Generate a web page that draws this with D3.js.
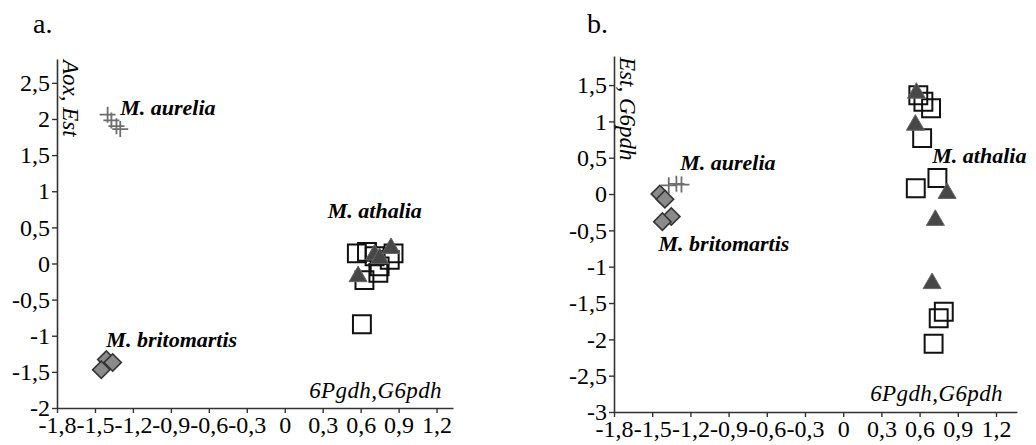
<!DOCTYPE html>
<html>
<head>
<meta charset="utf-8">
<script src="https://cdn.jsdelivr.net/npm/d3@7"></script>
<style>
  body { margin: 0; background: #fff; }
</style>
</head>
<body>
<svg id="chart" width="1036" height="445"></svg>
<script>
// tick values
const xTicks = [-1.8, -1.5, -1.2, -0.9, -0.6, -0.3, 0, 0.3, 0.6, 0.9, 1.2];
const yTicksA = [-2, -1.5, -1, -0.5, 0, 0.5, 1, 1.5, 2, 2.5];
const yTicksB = [-3, -2.5, -2, -1.5, -1, -0.5, 0, 0.5, 1, 1.5];

// panel a: Aox, Est vs 6Pgdh,G6pdh
const aureliaA = [[-1.40, 2.06], [-1.37, 1.98], [-1.33, 1.90], [-1.30, 1.86]];
const britomartisA = [[-1.41, -1.33], [-1.36, -1.37], [-1.45, -1.47]];
const athaliaSqA = [[0.57, 0.14], [0.65, 0.16], [0.71, 0.10], [0.75, -0.04], [0.86, 0.14],
                    [0.83, 0.05], [0.74, -0.13], [0.63, -0.23], [0.61, -0.84]];
const athaliaTriA = [[0.58, -0.18], [0.71, 0.12], [0.75, 0.07], [0.84, 0.21]];

// panel b: Est, G6pdh vs 6Pgdh,G6pdh
const aureliaB = [[-1.37, 0.12], [-1.31, 0.14], [-1.27, 0.13]];
const britomartisB = [[-1.44, 0.0], [-1.40, -0.07], [-1.35, -0.31], [-1.42, -0.38]];
const athaliaSqB = [[0.59, 1.36], [0.63, 1.27], [0.69, 1.18], [0.62, 0.77], [0.57, 0.08],
                    [0.74, 0.22], [0.79, -1.62], [0.75, -1.71], [0.71, -2.06]];
const athaliaTriB = [[0.575, 1.39], [0.567, 0.95], [0.816, 0.01], [0.724, -0.36], [0.698, -1.23]];

const fmt = d => String(d).replace(".", ",");
const serif = '"Liberation Serif"';

const svg = d3.select("#chart");

function drawPanel(p) {
  const x = d3.scaleLinear().domain(p.xDomain).range(p.xRange);
  const y = d3.scaleLinear().domain(p.yDomain).range(p.yRange);
  const g = svg.append("g");

  // axes
  const xAxis = g.append("g")
    .attr("transform", `translate(0,${p.yRange[0]})`)
    .call(d3.axisBottom(x).tickValues(xTicks).tickFormat(fmt).tickSize(5).tickSizeOuter(0).tickPadding(3));
  const yAxis = g.append("g")
    .attr("transform", `translate(${p.xRange[0]},0)`)
    .call(d3.axisLeft(y).tickValues(p.yTicks).tickFormat(fmt).tickSize(5).tickSizeOuter(0).tickPadding(2));

  [xAxis, yAxis].forEach(a => {
    a.attr("font-family", null).attr("font-size", null);
    a.select(".domain").attr("stroke", "#333").attr("stroke-width", 1.6);
    a.selectAll(".tick line").attr("stroke", "#333").attr("stroke-width", 1.4);
    a.selectAll("text")
      .attr("fill", "#000")
      .style("font-family", serif)
      .style("font-size", "24px");
  });

  // panel letter
  g.append("text")
    .attr("x", p.letterPos[0]).attr("y", p.letterPos[1])
    .style("font-family", serif).style("font-size", "28px")
    .text(p.letter);

  // axis titles
  g.append("text")
    .attr("transform", `translate(${p.yTitlePos[0]},${p.yTitlePos[1]}) rotate(90)`)
    .style("font-family", serif).style("font-size", "23px").style("font-style", "italic")
    .text(p.yTitle);
  g.append("text")
    .attr("x", p.xTitlePos[0]).attr("y", p.xTitlePos[1])
    .attr("text-anchor", "end")
    .style("font-family", serif).style("font-size", "23px").style("font-style", "italic")
    .style("letter-spacing", "0.4px")
    .text("6Pgdh,G6pdh");

  // squares (open)
  g.selectAll(".sq").data(p.squares).enter().append("path")
    .attr("class", "sq")
    .attr("transform", d => `translate(${x(d[0])},${y(d[1])})`)
    .attr("d", d3.symbol(d3.symbolSquare, 320))
    .attr("fill", "none").attr("stroke", "#111").attr("stroke-width", 2);

  // triangles
  g.selectAll(".tri").data(p.triangles).enter().append("path")
    .attr("class", "tri")
    .attr("transform", d => `translate(${x(d[0])},${y(d[1])})`)
    .attr("d", d3.symbol(d3.symbolTriangle, 140))
    .attr("fill", "#474747").attr("stroke", "#666").attr("stroke-width", 1);

  // diamonds
  g.selectAll(".dia").data(p.diamonds).enter().append("path")
    .attr("class", "dia")
    .attr("transform", d => `translate(${x(d[0])},${y(d[1])}) rotate(45)`)
    .attr("d", d3.symbol(d3.symbolSquare, 150))
    .attr("fill", "#8a8a8a").attr("stroke", "#333").attr("stroke-width", 1.6);

  // pluses
  g.selectAll(".plus").data(p.pluses).enter().append("path")
    .attr("class", "plus")
    .attr("d", d => `M${x(d[0]) - 8},${y(d[1])}h16M${x(d[0])},${y(d[1]) - 8}v16`)
    .attr("fill", "none").attr("stroke", "#6e6e6e").attr("stroke-width", 1.8);

  // species labels
  g.selectAll(".lab").data(p.labels).enter().append("text")
    .attr("class", "lab")
    .attr("x", d => x(d.x)).attr("y", d => y(d.y))
    .style("font-family", serif).style("font-size", "22px")
    .style("font-weight", "bold").style("font-style", "italic")
    .text(d => d.name);
}

drawPanel({
  xDomain: [-1.8, 1.33], xRange: [57, 453],
  yDomain: [-2, 2.83], yRange: [408, 59],
  yTicks: yTicksA,
  letter: "a.", letterPos: [33, 33],
  yTitle: "Aox, Est", yTitlePos: [63, 60],
  xTitlePos: [442, 398],
  squares: athaliaSqA, triangles: athaliaTriA, diamonds: britomartisA, pluses: aureliaA,
  labels: [
    { name: "M. aurelia", x: -1.30, y: 2.06 },
    { name: "M. athalia", x: 0.34, y: 0.63 },
    { name: "M. britomartis", x: -1.41, y: -1.16 }
  ]
});

drawPanel({
  xDomain: [-1.8, 1.365], xRange: [614, 1017],
  yDomain: [-3, 1.9], yRange: [412, 56],
  yTicks: yTicksB,
  letter: "b.", letterPos: [587, 33],
  yTitle: "Est, G6pdh", yTitlePos: [620, 57],
  xTitlePos: [1003, 401],
  squares: athaliaSqB, triangles: athaliaTriB, diamonds: britomartisB, pluses: aureliaB,
  labels: [
    { name: "M. aurelia", x: -1.28, y: 0.33 },
    { name: "M. athalia", x: 0.70, y: 0.43 },
    { name: "M. britomartis", x: -1.45, y: -0.79 }
  ]
});
</script>
</body>
</html>
